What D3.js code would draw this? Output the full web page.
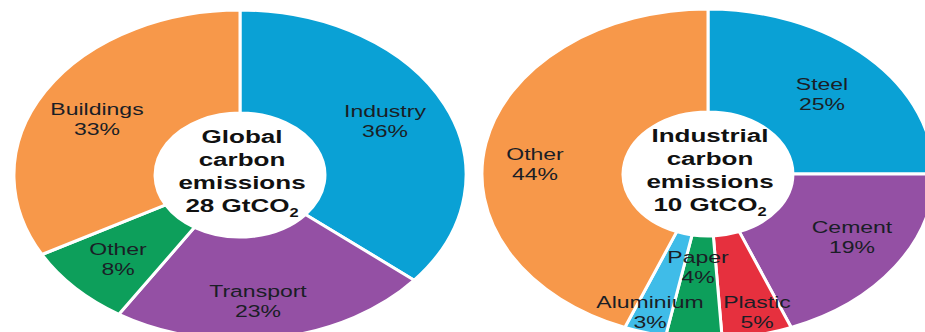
<!DOCTYPE html>
<html>
<head>
<meta charset="utf-8">
<script src="https://cdn.jsdelivr.net/npm/d3@7/dist/d3.min.js"></script>
<style>
  html, body { margin: 0; padding: 0; background: #fff; }
  svg { display: block; font-family: "Liberation Sans", Arial, sans-serif; }
</style>
</head>
<body>
<svg id="chart" width="925" height="332"></svg>
<script>
// Global carbon emissions by sector (%)
const globalSectors = ["Industry", "Transport", "Other", "Buildings"];
const globalShares  = [36, 23, 8, 33];
const globalColors  = ["#0aa1d5", "#9450a4", "#0d9f5b", "#f7984a"];
const globalTitle   = ["Global", "carbon", "emissions", "28 GtCO"];

// Industrial carbon emissions by sub-sector (%)
const industrySectors = ["Steel", "Cement", "Plastic", "Paper", "Aluminium", "Other"];
const industryShares  = [25, 19, 5, 4, 3, 44];
const industryColors  = ["#0aa1d5", "#9450a4", "#e6303e", "#0d9f5b", "#3fbce8", "#f7984a"];
const industryTitle   = ["Industrial", "carbon", "emissions", "10 GtCO"];

// Layout: the donuts are drawn as ellipses (horizontal stretch sx)
const sx = 1.37;
const outerR = 165, innerR = 62;

// label offsets (first-line baseline) from each donut's centre, in screen px
const globalLabelPos = {
  Industry: [145, -58], Transport: [18, 122], Other: [-122, 80], Buildings: [-143, -60]
};
const industryLabelPos = {
  Steel: [114, -84], Cement: [144, 59], Plastic: [49, 134],
  Paper: [-10, 89], Aluminium: [-58, 134], Other: [-173, -14]
};

const svg = d3.select("#chart");

function donut(cx, cy, names, shares, colors, labelPos, title) {
  const pie = d3.pie().sort(null).value(d => d.v);
  const arc = d3.arc().innerRadius(innerR).outerRadius(outerR);
  const data = names.map((n, i) => ({ n, v: shares[i], c: colors[i] }));

  const g = svg.append("g").attr("transform", `translate(${cx},${cy})`);
  const shapes = g.append("g").attr("transform", `scale(${sx},1)`);

  shapes.selectAll("path")
    .data(pie(data))
    .join("path")
      .attr("d", arc)
      .attr("fill", d => d.data.c)
      .attr("stroke", "#fff")
      .attr("stroke-width", 3)
      .attr("vector-effect", "non-scaling-stroke")
      .attr("stroke-linejoin", "round");

  // slice labels: name and percentage
  data.forEach(d => {
    const [dx, dy] = labelPos[d.n];
    const t = g.append("text")
      .attr("transform", `translate(${dx},${dy}) scale(${sx},1)`)
      .attr("text-anchor", "middle")
      .attr("font-size", 16.8)
      .attr("fill", "#1a1e26");
    t.append("tspan").attr("x", 0).attr("y", 0).text(d.n);
    t.append("tspan").attr("x", 0).attr("y", 20).text(d.v + "%");
  });

  // centre title
  const tt = g.append("text")
    .attr("transform", `translate(2,-32) scale(${sx},1)`)
    .attr("text-anchor", "middle")
    .attr("font-size", 19)
    .attr("font-weight", "bold")
    .attr("fill", "#111");
  title.forEach((line, i) => {
    const ts = tt.append("tspan").attr("x", 0).attr("y", i * 23).text(line);
    if (i === title.length - 1) {
      // subscript 2 of CO2
      ts.append("tspan").attr("font-size", 12).attr("dy", 5).text("2");
    }
  });
}

donut(240, 175, globalSectors, globalShares, globalColors, globalLabelPos, globalTitle);
donut(708, 174, industrySectors, industryShares, industryColors, industryLabelPos, industryTitle);
</script>
</body>
</html>
